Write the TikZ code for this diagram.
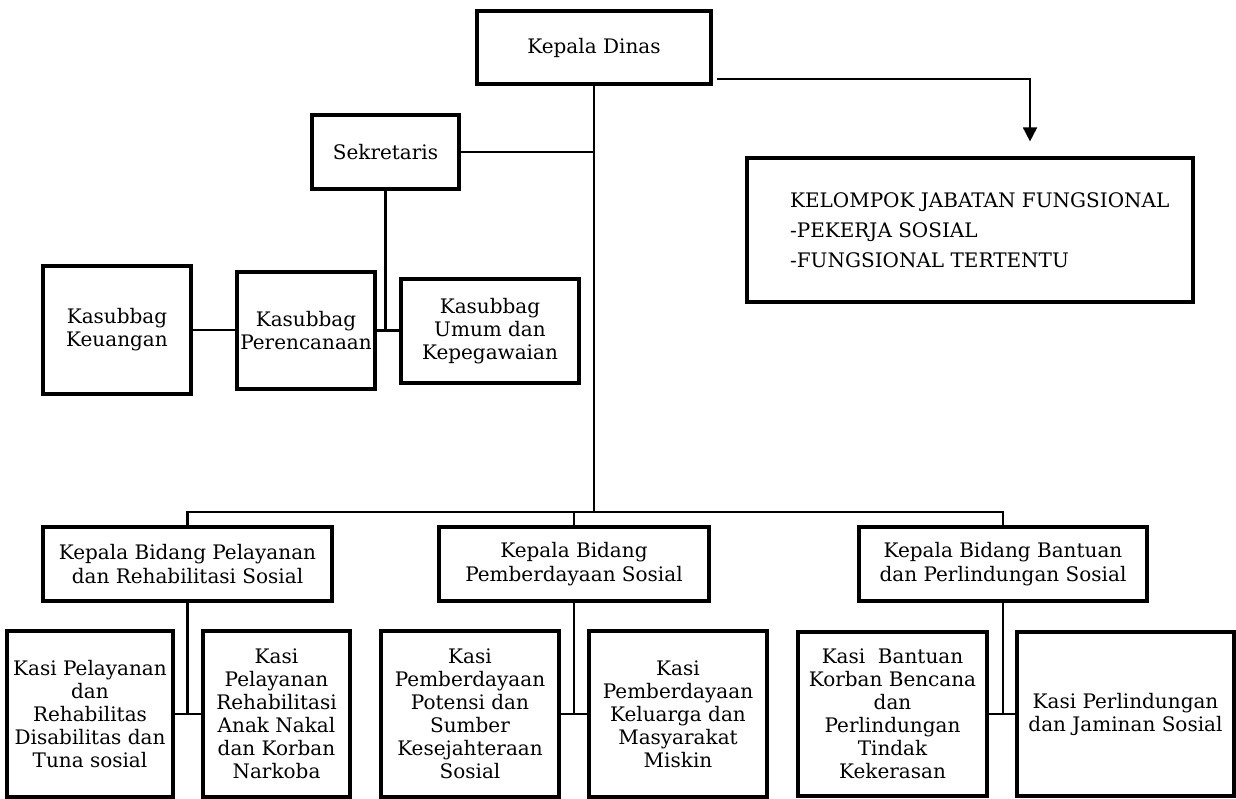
\documentclass[tikz,border=0pt]{standalone}
\usepackage{fontspec}
\setmainfont{DejaVu Serif}
\usepackage{tikz}
\usetikzlibrary{arrows.meta, positioning, calc}

\begin{document}
\begin{tikzpicture}[x=0.5pt, y=-0.5pt,
  orgbox/.style={draw, line width=1.6pt, inner sep=1pt, align=center,
        font=\fontsize{10}{11.5}\selectfont},
  link/.style={line width=1.3pt}]
  \useasboundingbox (0,0) rectangle (1236,798);
  % Top level
  \node[orgbox, minimum width=117pt, minimum height=36.5pt] (dinas) at (594,47.5) {Kepala Dinas};
  \node[orgbox, minimum width=73.5pt, minimum height=37pt] (sekr) at (385.5,152) {Sekretaris};
  \node[orgbox, minimum width=223pt, minimum height=72pt] (kjf) at (970,230) {};
  \node[anchor=west, align=left, font=\fontsize{10}{15}\selectfont] (kjftext) at (783,230)
        {KELOMPOK JABATAN FUNGSIONAL\\-PEKERJA SOSIAL\\-FUNGSIONAL TERTENTU};
  % Subbagian
  \node[orgbox, minimum width=74pt, minimum height=64pt] (keu) at (117,330) {Kasubbag\\Keuangan};
  \node[orgbox, minimum width=69pt, minimum height=58.5pt] (ren) at (306,330.5) {Kasubbag\\Perencanaan};
  \node[orgbox, minimum width=89pt, minimum height=52pt] (umum) at (490,331) {Kasubbag\\Umum dan\\Kepegawaian};
  % Bidang
  \node[orgbox, minimum width=144.5pt, minimum height=37pt, font=\fontsize{10}{12}\selectfont] (bid1) at (187.5,564)
        {Kepala Bidang Pelayanan\\dan Rehabilitasi Sosial};
  \node[orgbox, minimum width=135pt, minimum height=37pt, font=\fontsize{10}{12}\selectfont] (bid2) at (574,564)
        {Kepala Bidang\\Pemberdayaan Sosial};
  \node[orgbox, minimum width=144pt, minimum height=37pt, font=\fontsize{10}{12}\selectfont] (bid3) at (1003,564)
        {Kepala Bidang Bantuan\\dan Perlindungan Sosial};
  % Seksi
  \node[orgbox, minimum width=83pt, minimum height=83pt] (kasi1) at (90,714)
        {Kasi Pelayanan\\dan\\Rehabilitas\\Disabilitas dan\\Tuna sosial};
  \node[orgbox, minimum width=73.5pt, minimum height=83pt] (kasi2) at (276.5,714)
        {Kasi\\Pelayanan\\Rehabilitasi\\Anak Nakal\\dan Korban\\Narkoba};
  \node[orgbox, minimum width=89pt, minimum height=83pt] (kasi3) at (470,714)
        {Kasi\\Pemberdayaan\\Potensi dan\\Sumber\\Kesejahteraan\\Sosial};
  \node[orgbox, minimum width=89pt, minimum height=83pt] (kasi4) at (678,714)
        {Kasi\\Pemberdayaan\\Keluarga dan\\Masyarakat\\Miskin};
  \node[orgbox, minimum width=94.5pt, minimum height=82pt] (kasi5) at (892.5,714)
        {Kasi~ Bantuan\\Korban Bencana\\dan\\Perlindungan\\Tindak\\Kekerasan};
  \node[orgbox, minimum width=108.5pt, minimum height=82pt] (kasi6) at (1125.5,714)
        {Kasi Perlindungan\\dan Jaminan Sosial};
  % Lines
  \coordinate (hub) at (594,512);
  \draw[link] (dinas.south) -- (hub);
  \draw[link] (sekr.east) -- (sekr.east -| dinas.south);
  \draw[line width=0.9pt, -{Triangle[width=7pt, length=7pt]}]
        ([xshift=2pt, yshift=-15.75pt]dinas.east) -| ([xshift=30pt, yshift=7.5pt]kjf.north);
  \draw[link] (sekr.south) -- (sekr.south |- ren.east);
  \draw[link] (ren.east) -- (ren.east -| umum.west);
  \draw[link] (keu.east) -- (keu.east -| ren.west);
  \draw[link] (bid1.north) |- (hub) -| (bid3.north);
  \draw[link] (bid2.north) -- (bid2.north |- hub);
  \draw[link] (bid1.south) -- (bid1.south |- kasi1.east);
  \draw[link] (kasi1.east) -- (kasi2.west);
  \draw[link] (bid2.south) -- (bid2.south |- kasi3.east);
  \draw[link] (kasi3.east) -- (kasi4.west);
  \draw[link] (bid3.south) -- (bid3.south |- kasi5.east);
  \draw[link] (kasi5.east) -- (kasi6.west);
\end{tikzpicture}
\end{document}
